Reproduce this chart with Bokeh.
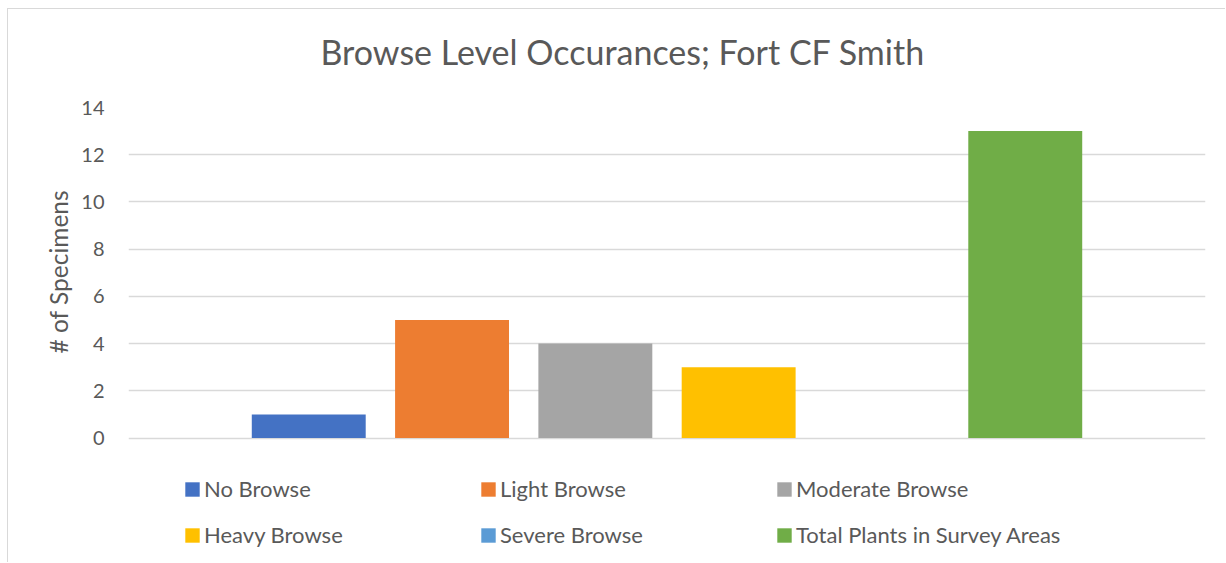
from bokeh.plotting import figure
from bokeh.models import ColumnDataSource, FactorRange, Range1d, Legend, LegendItem, FixedTicker, Title
from bokeh.embed import file_html
from bokeh.resources import INLINE

series = ["No Browse", "Light Browse", "Moderate Browse", "Heavy Browse", "Severe Browse", "Total Plants in Survey Areas"]
values = [1, 5, 4, 3, 0, 13]
colors = ["#4472C4", "#ED7D31", "#A5A5A5", "#FFC000", "#5B9BD5", "#70AD47"]
y_ticks = [0, 2, 4, 6, 8, 10, 12, 14]
title_text = "Browse Level Occurances; Fort CF Smith"
y_label = "# of Specimens"

FONT = "Lato"
TXT = "#595959"

src = ColumnDataSource(dict(series=series, values=values, colors=colors))

# frame extends down to the bottom so that the legend can live inside it
p = figure(width=1218, height=554, output_backend="svg", toolbar_location=None,
           x_range=FactorRange(factors=series, range_padding=0.2526, range_padding_units="percent"),
           y_range=Range1d(-5.316, 14),
           min_border_left=120, min_border_right=21, min_border_top=98, min_border_bottom=0)
p.styles = {"border-left": "1px solid #d9d9d9", "border-top": "1px solid #d9d9d9",
            "margin-left": "7px", "margin-top": "8px"}
p.outline_line_color = None

r = p.vbar(x="series", top="values", width=0.795, color="colors", source=src, line_color=None)

# spacer between frame and title, then the title itself
p.add_layout(Title(text=" ", text_font_size="10px", standoff=18), "above")
p.add_layout(Title(text=title_text, align="left", offset=192, standoff=10,
                   text_font=FONT, text_font_size="34px", text_font_style="normal",
                   text_color=TXT), "above")

p.xaxis.visible = False
p.xgrid.visible = False
p.ygrid.grid_line_color = "#d9d9d9"
p.ygrid.grid_line_width = 1.3

ya = p.yaxis[0]
ya.ticker = FixedTicker(ticks=y_ticks)
ya.axis_line_color = None
ya.major_tick_line_color = None
ya.minor_tick_line_color = None
ya.major_label_standoff = 18
ya.major_label_text_font = FONT
ya.major_label_text_font_size = "20px"
ya.major_label_text_color = TXT

ytitle = Title(text=y_label, align="left", offset=210, standoff=12,
               text_font=FONT, text_font_size="24.5px", text_font_style="normal", text_color=TXT)
p.add_layout(ytitle, "left")

items = [LegendItem(label=s, renderers=[r], index=i) for i, s in enumerate(series)]
legend = Legend(items=items, orientation="horizontal", ncols=3,
                location=(55, 15), padding=0, margin=0, spacing=19,
                glyph_width=18, glyph_height=18, label_standoff=3,
                label_width=256, label_height=22,
                label_text_font=FONT, label_text_font_size="22px", label_text_color=TXT,
                border_line_color=None, background_fill_alpha=0)
p.add_layout(legend, "center")

open("out.html", "w").write(file_html(p, INLINE))
